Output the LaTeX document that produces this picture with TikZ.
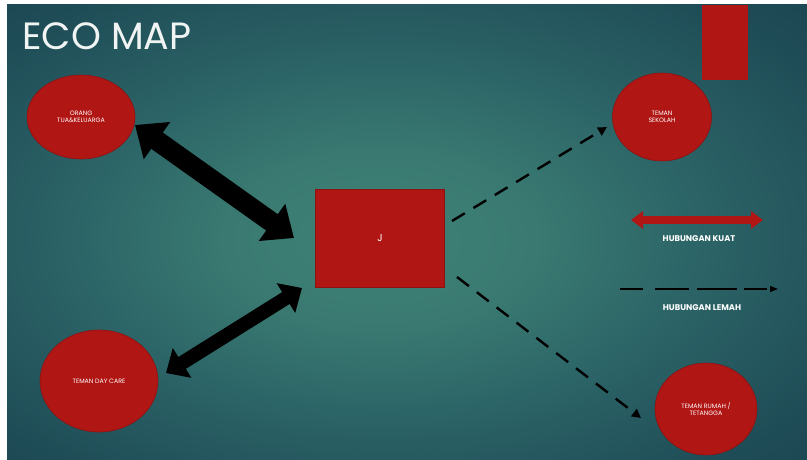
\documentclass[tikz,border=0pt]{standalone}
\usepackage{fontspec}
\setmainfont{Poppins}
\usetikzlibrary{arrows.meta,shapes.geometric}
\definecolor{bgin}{HTML}{3F8276}
\definecolor{bgmid}{HTML}{2B6366}
\definecolor{bgout}{HTML}{163D4C}
\definecolor{ecored}{HTML}{B01614}
\definecolor{ecoredline}{HTML}{8C1212}
\pgfdeclareradialshading{ecobg}{\pgfpoint{-2bp}{-1bp}}{color(0bp)=(bgin); color(10bp)=(bgin!70!bgmid); color(20bp)=(bgmid); color(32bp)=(bgmid!40!bgout); color(45bp)=(bgout); color(60bp)=(bgout)}
\tikzset{
  circ/.style={ellipse, fill=ecored, draw=ecoredline, line width=0.6pt, inner sep=0pt, text=white, font=\fontsize{6.3}{7.5}\selectfont, align=center},
  boxnode/.style={rectangle, fill=ecored, draw=ecoredline, line width=0.6pt, inner sep=0pt, text=white, font=\fontsize{10}{12}\selectfont},
  weak/.style={line width=2.4pt, dash pattern=on 15pt off 10pt, -{Triangle[width=9pt,length=9pt]}},
  legendlabel/.style={text=white, font=\bfseries\fontsize{8.3}{9}\selectfont},
}
\begin{document}
\begin{tikzpicture}[x=1pt,y=-1pt]
\useasboundingbox (0,0) rectangle (807,460);
\fill[white] (0,0) rectangle (807,460);
\fill[shading=ecobg] (7,5) rectangle (807,460);
% title
\node[anchor=west, inner sep=0pt, text=white!92!bgin, font=\fontsize{38}{42}\selectfont] (title) at (22,36) {ECO MAP};
% top-right bar
\fill[ecored] (702,5) rectangle (748,80);
% nodes
\node[circ, minimum width=108pt, minimum height=84pt] (ortu) at (81,117) {ORANG\\TUA\&KELUARGA};
\node[circ, minimum width=99pt, minimum height=88pt] (sekolah) at (662,117) {TEMAN\\SEKOLAH};
\node[circ, minimum width=118pt, minimum height=102pt] (daycare) at (99,381) {TEMAN DAY CARE};
\node[circ, minimum width=102pt, minimum height=92pt] (rumah) at (706,409) {TEMAN RUMAH /\\TETANGGA};
\node[boxnode, minimum width=129pt, minimum height=98pt] (J) at (380,238) {J};
% strong connectors
\coordinate (a1) at (135,125);
\coordinate (a2) at (294,238);
\draw[line width=20pt, {Triangle[width=44pt,length=27pt]}-{Triangle[width=44pt,length=27pt]}] (a1) -- (a2);
\coordinate (b1) at (302,288);
\coordinate (b2) at (166,373);
\draw[line width=14pt, {Triangle[width=34pt,length=19pt]}-{Triangle[width=34pt,length=19pt]}] (b1) -- (b2);
% weak connectors
\coordinate (c1) at (452,221);
\coordinate (c2) at (607,127);
\draw[weak] (c1) -- (c2);
\coordinate (d1) at (457,277);
\coordinate (d2) at (641,418);
\draw[weak] (d1) -- (d2);
% legend
\coordinate (l1) at (631,220);
\coordinate (l2) at (763,220);
\draw[line width=8pt, draw=ecored, {Triangle[width=17pt,length=12pt]}-{Triangle[width=17pt,length=12pt]}] (l1) -- (l2);
\node[legendlabel] (kuat) at (699,239) {HUBUNGAN KUAT};
\coordinate (m1) at (620,289);
\coordinate (m2) at (778,289);
\draw[line width=1.4pt, dash pattern=on 23pt off 12pt on 34pt off 8pt on 40pt off 7pt, -{Triangle[width=6pt,length=8pt]}] (m1) -- (m2);
\node[legendlabel] (lemah) at (702,308) {HUBUNGAN LEMAH};
\end{tikzpicture}
\end{document}
